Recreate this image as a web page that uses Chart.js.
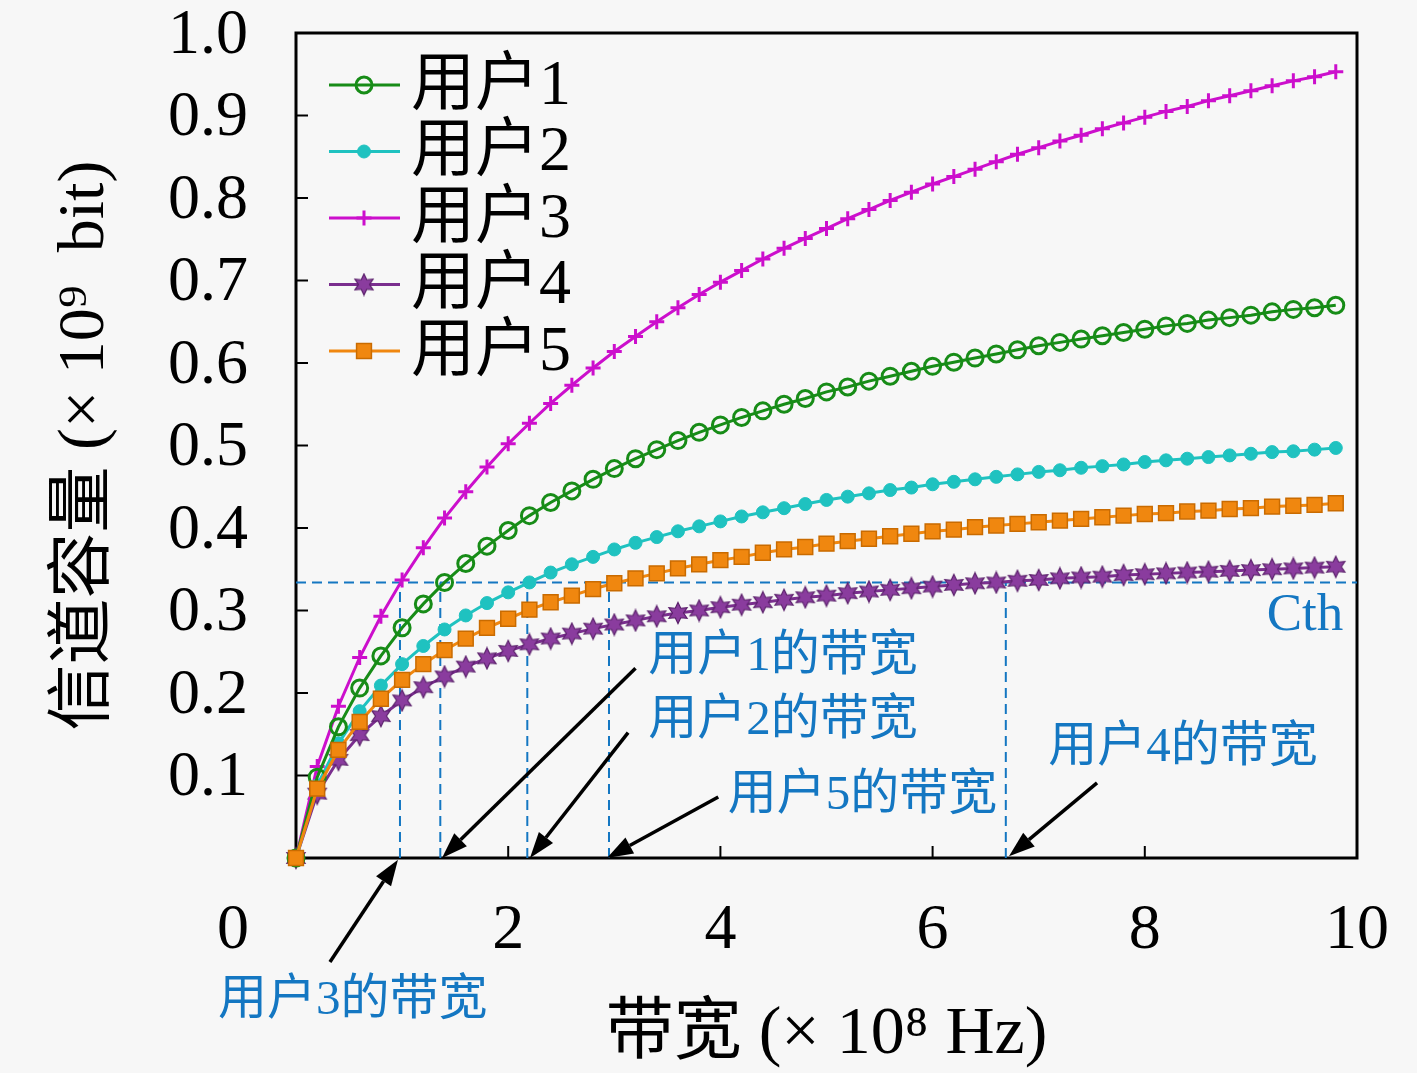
<!DOCTYPE html>
<html>
<head>
<meta charset="utf-8">
<script src="https://cdn.jsdelivr.net/npm/chart.js@4.4.1/dist/chart.umd.min.js"></script>
<style>
  html, body { margin: 0; padding: 0; background: #f7f7f7; overflow: hidden; }
  canvas { display: block; }
</style>
</head>
<body>
<canvas id="chart" width="1417" height="1073"></canvas>
<script>
// 带宽 (×10^8 Hz)
const bandwidth = [0, 0.2, 0.4, 0.6, 0.8, 1.0, 1.2, 1.4, 1.6, 1.8,
  2.0, 2.2, 2.4, 2.6, 2.8, 3.0, 3.2, 3.4, 3.6, 3.8,
  4.0, 4.2, 4.4, 4.6, 4.8, 5.0, 5.2, 5.4, 5.6, 5.8,
  6.0, 6.2, 6.4, 6.6, 6.8, 7.0, 7.2, 7.4, 7.6, 7.8,
  8.0, 8.2, 8.4, 8.6, 8.8, 9.0, 9.2, 9.4, 9.6, 9.8];

// 信道容量 (×10^9 bit)
const user1 = [0, 0.098, 0.159, 0.206, 0.245, 0.279, 0.308, 0.334, 0.357, 0.378,
  0.397, 0.415, 0.431, 0.445, 0.459, 0.472, 0.484, 0.495, 0.506, 0.516,
  0.525, 0.534, 0.542, 0.550, 0.557, 0.565, 0.571, 0.578, 0.584, 0.590,
  0.596, 0.601, 0.606, 0.611, 0.616, 0.621, 0.625, 0.629, 0.633, 0.637,
  0.641, 0.645, 0.648, 0.652, 0.655, 0.658, 0.662, 0.665, 0.667, 0.670];
const user2 = [0, 0.088, 0.139, 0.178, 0.209, 0.235, 0.257, 0.277, 0.294, 0.309,
  0.322, 0.334, 0.346, 0.356, 0.365, 0.374, 0.382, 0.389, 0.396, 0.402,
  0.408, 0.414, 0.419, 0.424, 0.429, 0.434, 0.438, 0.442, 0.446, 0.449,
  0.453, 0.456, 0.459, 0.462, 0.465, 0.468, 0.470, 0.473, 0.475, 0.477,
  0.480, 0.482, 0.484, 0.486, 0.488, 0.490, 0.492, 0.493, 0.495, 0.497];
const user3 = [0, 0.111, 0.184, 0.243, 0.293, 0.337, 0.376, 0.412, 0.444, 0.474,
  0.502, 0.527, 0.551, 0.573, 0.594, 0.614, 0.632, 0.650, 0.667, 0.683,
  0.698, 0.712, 0.726, 0.739, 0.751, 0.763, 0.775, 0.786, 0.797, 0.807,
  0.817, 0.826, 0.835, 0.844, 0.853, 0.861, 0.869, 0.876, 0.884, 0.891,
  0.898, 0.905, 0.911, 0.918, 0.924, 0.930, 0.936, 0.942, 0.947, 0.953];
const user4 = [0, 0.078, 0.119, 0.149, 0.172, 0.191, 0.207, 0.220, 0.232, 0.242,
  0.251, 0.259, 0.266, 0.272, 0.278, 0.283, 0.288, 0.293, 0.297, 0.300,
  0.304, 0.307, 0.310, 0.313, 0.316, 0.318, 0.321, 0.323, 0.325, 0.327,
  0.329, 0.331, 0.333, 0.334, 0.336, 0.337, 0.339, 0.340, 0.341, 0.343,
  0.344, 0.345, 0.346, 0.347, 0.348, 0.349, 0.350, 0.351, 0.352, 0.353];
const user5 = [0, 0.084, 0.131, 0.165, 0.193, 0.216, 0.235, 0.252, 0.266, 0.279,
  0.290, 0.301, 0.310, 0.318, 0.326, 0.333, 0.339, 0.345, 0.351, 0.356,
  0.361, 0.365, 0.370, 0.374, 0.377, 0.381, 0.384, 0.387, 0.390, 0.393,
  0.396, 0.398, 0.401, 0.403, 0.405, 0.407, 0.409, 0.411, 0.413, 0.415,
  0.417, 0.418, 0.420, 0.421, 0.423, 0.424, 0.426, 0.427, 0.428, 0.430];

const userNames = ['用户1', '用户2', '用户3', '用户4', '用户5'];

// 门限 Cth 以及每个用户达到门限所需的带宽（用户1..5）
const cth = 0.334;
const cthBandwidth = [1.36, 2.18, 0.98, 6.69, 2.95];

const xTicks = [0, 2, 4, 6, 8, 10];
const yTicks = [0, 0.1, 0.2, 0.3, 0.4, 0.5, 0.6, 0.7, 0.8, 0.9, 1.0];

const FAMILY = '"Liberation Serif", "Noto Sans CJK SC", serif';
const BLUE = '#1477c2';
const TICK_PAD = 41;

// 标注文字与箭头（数据坐标）
const notes = [
  { text: '用户1的带宽', x: 3.32, y: 0.244, from: [3.20, 0.230], to: [1.376, 0] },
  { text: '用户2的带宽', x: 3.32, y: 0.166, from: [3.13, 0.152], to: [2.205, 0] },
  { text: '用户3的带宽', x: -0.735, y: -0.173, from: [0.32, -0.126], to: [0.961, -0.002] },
  { text: '用户4的带宽', x: 7.09, y: 0.133, from: [7.55, 0.091], to: [6.72, 0.002] },
  { text: '用户5的带宽', x: 4.07, y: 0.075, from: [3.98, 0.074], to: [2.931, 0] }
];

function makeStar(fill, edge) {
  const c = document.createElement('canvas');
  c.width = c.height = 24;
  const g = c.getContext('2d');
  g.beginPath();
  for (let i = 0; i < 12; i++) {
    const r = i % 2 ? 5.5 : 10.5;
    const a = -Math.PI / 2 + i * Math.PI / 6;
    g.lineTo(12 + r * Math.cos(a), 12 + r * Math.sin(a));
  }
  g.closePath();
  g.fillStyle = fill;
  g.fill();
  g.strokeStyle = edge;
  g.lineWidth = 1.2;
  g.stroke();
  return c;
}

const styles = [
  { color: '#178c17', pointStyle: 'circle', radius: 8, fill: 'rgba(0,0,0,0)', pointBorder: 3 },
  { color: '#1fc2c0', pointStyle: 'circle', radius: 6.5, fill: '#1fc2c0', pointBorder: 1 },
  { color: '#cc0fcc', pointStyle: 'cross', radius: 7.5, fill: '#cc0fcc', pointBorder: 3 },
  { color: '#7a2e8e', pointStyle: makeStar('#8a3c9e', '#5a1f6a'), radius: 11, fill: '#8a3c9e', pointBorder: 1 },
  { color: '#f0870f', pointStyle: 'rect', radius: 10.5, fill: '#f0870f', pointBorder: 1.5, edge: '#c96b00' }
];

function series(values) {
  return bandwidth.map((b, i) => ({ x: b, y: values[i] }));
}

const userData = [user1, user2, user3, user4, user5];

// 用户5 画在最上层（与原图原点处一致）
const datasets = userData.map((vals, i) => ({
  label: userNames[i],
  data: series(vals),
  showLine: true,
  order: i === 4 ? -1 : i,
  borderColor: styles[i].color,
  borderWidth: 3,
  pointStyle: styles[i].pointStyle,
  pointRadius: styles[i].radius,
  pointBackgroundColor: styles[i].fill,
  pointBorderColor: styles[i].edge || styles[i].color,
  pointBorderWidth: styles[i].pointBorder,
  clip: false
}));

// Cth 水平虚线
datasets.push({
  label: 'Cth',
  data: [{ x: 0, y: cth }, { x: 10, y: cth }],
  showLine: true,
  order: 10,
  borderColor: BLUE,
  borderWidth: 2,
  borderDash: [10, 6],
  pointRadius: 0,
  clip: false
});

// 每个用户的带宽竖直虚线
cthBandwidth.forEach(b => {
  datasets.push({
    label: 'bw',
    data: [{ x: b, y: 0 }, { x: b, y: cth }],
    showLine: true,
    order: 10,
    borderColor: BLUE,
    borderWidth: 2,
    borderDash: [10, 6],
    pointRadius: 0
  });
});

function drawArrow(ctx, x1, y1, x2, y2) {
  const ang = Math.atan2(y2 - y1, x2 - x1);
  const len = 26, half = 9;
  const bx = x2 - len * Math.cos(ang), by = y2 - len * Math.sin(ang);
  ctx.beginPath();
  ctx.moveTo(x1, y1);
  ctx.lineTo(bx, by);
  ctx.stroke();
  ctx.beginPath();
  ctx.moveTo(x2, y2);
  ctx.lineTo(bx + half * Math.sin(ang), by - half * Math.cos(ang));
  ctx.lineTo(bx - half * Math.sin(ang), by + half * Math.cos(ang));
  ctx.closePath();
  ctx.fill();
}

const decorations = {
  id: 'decorations',
  beforeDraw(chart) {
    const ctx = chart.ctx;
    ctx.save();
    ctx.fillStyle = '#f7f7f7';
    ctx.fillRect(0, 0, chart.width, chart.height);
    ctx.restore();
  },
  beforeDatasetsDraw(chart) {
    const { ctx, chartArea: a, scales: { x, y } } = chart;
    ctx.save();

    // 向内的刻度
    ctx.strokeStyle = '#000';
    ctx.lineWidth = 2;
    x.ticks.forEach(t => {
      if (t.value === 0 || t.value === 10) return;
      const px = x.getPixelForValue(t.value);
      ctx.beginPath(); ctx.moveTo(px, a.bottom); ctx.lineTo(px, a.bottom - 12); ctx.stroke();
    });
    y.ticks.forEach(t => {
      if (t.value === 0 || t.value === 1) return;
      const py = y.getPixelForValue(t.value);
      ctx.beginPath(); ctx.moveTo(a.left, py); ctx.lineTo(a.left + 12, py); ctx.stroke();
    });

    // 边框
    ctx.lineWidth = 3;
    ctx.strokeRect(a.left, a.top, a.right - a.left, a.bottom - a.top);
    ctx.restore();
  },
  afterDatasetsDraw(chart) {
    const { ctx, chartArea: a, scales: { x, y } } = chart;
    ctx.save();

    // 原点 "0"
    ctx.fillStyle = '#000';
    ctx.font = '64px ' + FAMILY;
    ctx.textAlign = 'center';
    ctx.textBaseline = 'middle';
    ctx.fillText('0', a.left - 63, x.top + TICK_PAD + 32);

    // 箭头
    ctx.lineWidth = 3.5;
    ctx.strokeStyle = '#000';
    ctx.fillStyle = '#000';
    notes.forEach(n => {
      drawArrow(ctx,
        x.getPixelForValue(n.from[0]), y.getPixelForValue(n.from[1]),
        x.getPixelForValue(n.to[0]), y.getPixelForValue(n.to[1]));
    });

    // 标注文字
    ctx.fillStyle = BLUE;
    ctx.font = '49px ' + FAMILY;
    ctx.textAlign = 'left';
    ctx.textBaseline = 'middle';
    notes.forEach(n => {
      ctx.fillText(n.text, x.getPixelForValue(n.x), y.getPixelForValue(n.y));
    });
    ctx.font = '53px ' + FAMILY;
    ctx.textAlign = 'right';
    ctx.textBaseline = 'alphabetic';
    ctx.fillText('Cth', x.getPixelForValue(9.87), y.getPixelForValue(0.276));

    // 图例
    const drawPoint = Chart.helpers && Chart.helpers.drawPoint;
    const lx = a.left + 33, ly = a.top + 52, step = 66.5;
    styles.forEach((s, i) => {
      const yy = ly + i * step;
      ctx.strokeStyle = s.color;
      ctx.lineWidth = 3;
      ctx.setLineDash([]);
      ctx.beginPath(); ctx.moveTo(lx, yy); ctx.lineTo(lx + 71, yy); ctx.stroke();
      if (drawPoint) {
        ctx.fillStyle = s.fill;
        ctx.strokeStyle = s.edge || s.color;
        ctx.lineWidth = s.pointBorder;
        drawPoint(ctx, { pointStyle: s.pointStyle, radius: s.radius, borderWidth: s.pointBorder, rotation: 0 }, lx + 35, yy);
      }
      ctx.fillStyle = '#000';
      ctx.font = '64px ' + FAMILY;
      ctx.textAlign = 'left';
      ctx.textBaseline = 'middle';
      ctx.fillText(userNames[i], lx + 82, yy + 2);
    });

    ctx.restore();
  }
};

new Chart(document.getElementById('chart'), {
  type: 'scatter',
  data: { datasets: datasets },
  options: {
    responsive: false,
    animation: false,
    events: [],
    layout: { autoPadding: false, padding: { left: 0, top: 33, right: 60, bottom: 0 } },
    scales: {
      x: {
        type: 'linear',
        min: 0,
        max: 10,
        afterBuildTicks: s => { s.ticks = xTicks.map(v => ({ value: v })); },
        afterFit: s => { s.height = 215; s.paddingLeft = 0; s.paddingRight = 0; },
        grid: { display: false, drawTicks: false },
        border: { display: false },
        ticks: {
          autoSkip: false,
          maxRotation: 0,
          padding: TICK_PAD,
          color: '#000',
          font: { family: FAMILY, size: 64, lineHeight: 1 },
          callback: v => (v === 0 ? '' : String(v))
        },
        title: {
          display: true,
          text: '带宽 (× 10⁸ Hz)',
          color: '#000',
          font: { family: FAMILY, size: 68 },
          padding: { top: 0, bottom: -3 }
        }
      },
      y: {
        type: 'linear',
        min: 0,
        max: 1,
        afterBuildTicks: s => { s.ticks = yTicks.map(v => ({ value: v })); },
        afterFit: s => { s.width = 296; s.paddingTop = 0; s.paddingBottom = 0; },
        grid: { display: false, drawTicks: false },
        border: { display: false },
        ticks: {
          autoSkip: false,
          padding: 48,
          labelOffset: 3,
          color: '#000',
          font: { family: FAMILY, size: 64, lineHeight: 1 },
          callback: v => (v === 0 ? '' : v.toFixed(1))
        },
        title: {
          display: true,
          text: '信道容量 (× 10⁹  bit)',
          color: '#000',
          font: { family: FAMILY, size: 66 },
          padding: { top: 46, bottom: 0 }
        }
      }
    },
    plugins: {
      legend: { display: false },
      tooltip: { enabled: false }
    }
  },
  plugins: [decorations]
});
</script>
</body>
</html>
